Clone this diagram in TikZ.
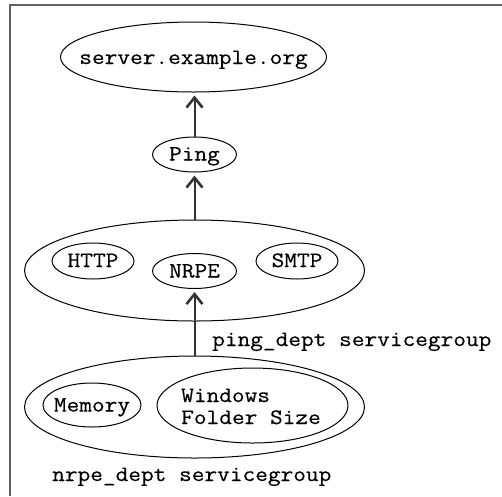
\documentclass[tikz,border=0pt]{standalone}
\usepackage{fontspec}
\setmonofont[FakeStretch=1.12,FakeBold=0.4]{Latin Modern Mono}
\usetikzlibrary{shapes.geometric,arrows.meta}
\tikzset{
  ell/.style={draw=black, line width=1pt, ellipse, inner sep=0pt},
  txt/.style={font=\fontsize{22}{23}\selectfont\ttfamily, inner sep=0pt, anchor=base},
  conn/.style={draw=black!80, line width=2pt, -{Straight Barb[length=10pt,width=16pt,line width=2.6pt]}, shorten >=3pt},
  frame/.style={draw=black!62, line width=1.6pt}
}
\begin{document}
\begin{tikzpicture}[x=1pt,y=-1pt]
\useasboundingbox (0,0) rectangle (502,496);
\draw[frame] (10,496) -- (10,5) -- (502,5);
% top server
\node[ell, minimum width=266pt, minimum height=70pt] (srv) at (193.5,57) {};
\node[txt] (srvt) at (193.5,64) {server.example.org};
% ping
\node[ell, minimum width=84pt, minimum height=35pt] (ping) at (194.5,154.5) {};
\node[txt] (pingt) at (194.5,160.5) {Ping};
% ping_dept group
\node[ell, minimum width=340pt, minimum height=101pt] (pgrp) at (194.5,270.5) {};
\node[ell, minimum width=82pt, minimum height=36pt] (http) at (93,261) {};
\node[txt] (httpt) at (93,267) {HTTP};
\node[ell, minimum width=84pt, minimum height=35pt] (nrpe) at (194.5,271) {};
\node[txt] (nrpet) at (194.5,277.5) {NRPE};
\node[ell, minimum width=82pt, minimum height=36pt] (smtp) at (297,261) {};
\node[txt] (smtpt) at (297,267) {SMTP};
\node[txt, anchor=base west] (plab) at (212,346) {ping\_dept servicegroup};
% nrpe_dept group
\node[ell, minimum width=340pt, minimum height=102pt] (ngrp) at (194.5,407) {};
\node[ell, minimum width=98pt, minimum height=44pt] (mem) at (92,405) {};
\node[txt] (memt) at (92,411.5) {Memory};
\node[ell, minimum width=191pt, minimum height=75pt] (win) at (252.5,405.5) {};
\node[txt, anchor=base west] (wint1) at (181,402) {Windows};
\node[txt, anchor=base west] (wint2) at (181,424) {Folder Size};
\node[txt, anchor=base west] (nlab) at (52,481) {nrpe\_dept servicegroup};
% connectors
\draw[conn] (ping.north) -- (ping.north |- srv.south);
\draw[conn] (pgrp.north) -- (pgrp.north |- ping.south);
\draw[conn] (ngrp.north) -- (ngrp.north |- nrpe.south);
\end{tikzpicture}
\end{document}
